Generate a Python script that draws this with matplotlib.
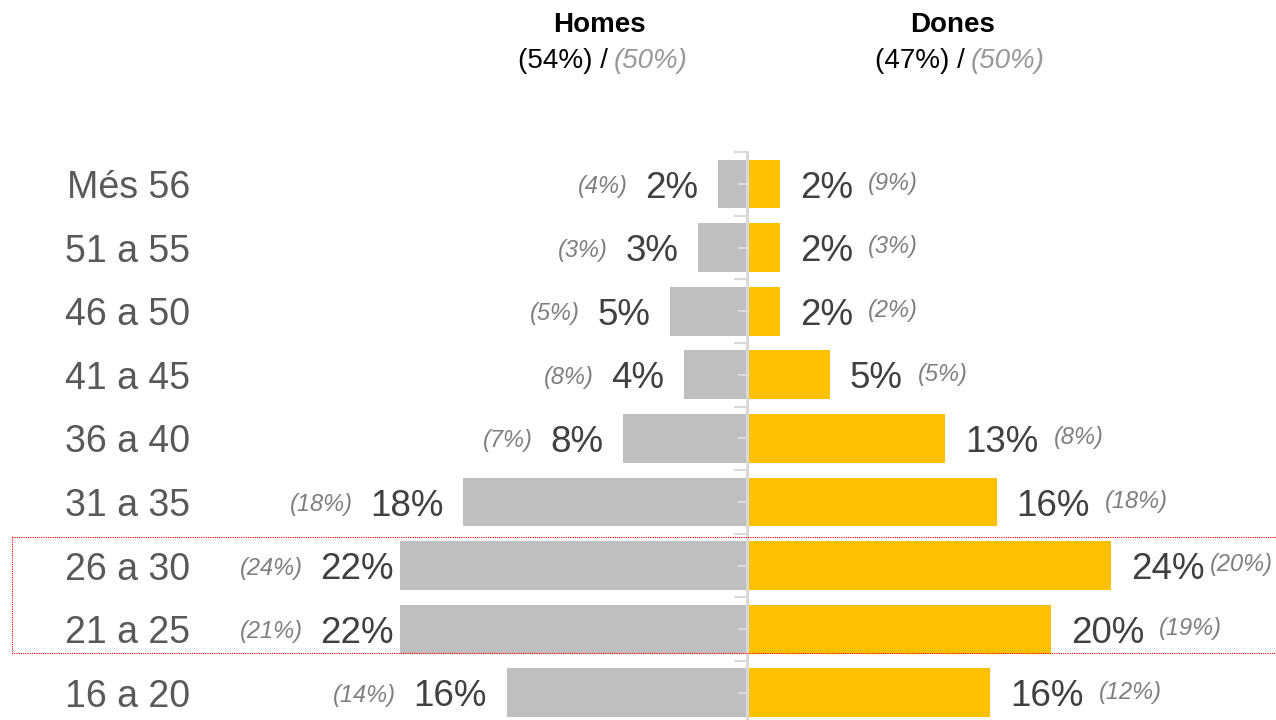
import matplotlib
matplotlib.use("Agg")
import matplotlib.pyplot as plt
from matplotlib.patches import Rectangle

plt.rcParams['font.family'] = ['Liberation Sans', 'DejaVu Sans']

# age groups, top to bottom
ages = ['Més 56', '51 a 55', '46 a 50', '41 a 45', '36 a 40',
        '31 a 35', '26 a 30', '21 a 25', '16 a 20']
# bar lengths (%)
homes = [1.87, 3.16, 4.97, 4.06, 8.0, 18.3, 22.4, 22.4, 15.5]
dones = [2.13, 2.13, 2.13, 5.35, 12.8, 16.1, 23.5, 19.6, 15.7]
# printed labels
homes_lbl = ['2%', '3%', '5%', '4%', '8%', '18%', '22%', '22%', '16%']
dones_lbl = ['2%', '2%', '2%', '5%', '13%', '16%', '24%', '20%', '16%']
homes_ref = ['(4%)', '(3%)', '(5%)', '(8%)', '(7%)', '(18%)', '(24%)', '(21%)', '(14%)']
dones_ref = ['(9%)', '(3%)', '(2%)', '(5%)', '(8%)', '(18%)', '(20%)', '(19%)', '(12%)']
homes_tot, dones_tot, ref_tot = '(54%)', '(47%)', '(50%)'
highlight = ['26 a 30', '21 a 25']

W, H = 1276, 720
GRAY = '#BFBFBF'
YELLOW = '#FFC000'
DARK = '#404040'
LABEL = '#595959'
LIGHT = '#7F7F7F'

# pixel geometry of the layout
x0_px, px_per_pct = 747, 15.5
y0_px, row_px = 184, 63.6

fig = plt.figure(figsize=(W / 100, H / 100), dpi=100)
ax = fig.add_axes([0, 0, 1, 1])
ax.set_xlim(-x0_px / px_per_pct, (W - x0_px) / px_per_pct)
ax.set_ylim((H - y0_px) / row_px, -y0_px / row_px)
ax.axis('off')

ys = list(range(len(ages)))
ax.barh(ys, [-v for v in homes], height=0.77, color=GRAY, zorder=2)
ax.barh(ys, dones, height=0.77, color=YELLOW, zorder=2)

# centre axis with small ticks
ax.plot([0, 0], [-0.52, ys[-1] + 0.6], color='#D9D9D9', lw=2.2, zorder=3,
        solid_capstyle='butt')
tick_b = 12 / px_per_pct
tick_c = 8 / px_per_pct
for y in ys:
    ax.plot([-tick_b, 0], [y - 0.5, y - 0.5], color='#D9D9D9', lw=1.5, zorder=3)
    ax.plot([-tick_c, 0], [y, y], color='#D9D9D9', lw=1.5, zorder=3)

gap = 20 / px_per_pct
fig.canvas.draw()
r = fig.canvas.get_renderer()
inv = ax.transData.inverted()


def px2x(px):
    return inv.transform((px, 0))[0]


for y, age, h, d, hl, dl, hr, dr in zip(ys, ages, homes, dones, homes_lbl,
                                        dones_lbl, homes_ref, dones_ref):
    ax.text((190 - x0_px) / px_per_pct, y, age, ha='right', va='center_baseline',
            fontsize=27, color=LABEL)

    # left side: value then reference, kept clear of the row labels
    tv = ax.text(-h - gap, y, hl, ha='right', va='center_baseline',
                 fontsize=26.5, color=DARK)
    tr = ax.text(0, y, hr, ha='right', va='center_baseline', fontsize=17,
                 style='italic', color=LIGHT)
    wv = tv.get_window_extent(r).width
    wr = tr.get_window_extent(r).width
    bar_px = ax.transData.transform((-h, 0))[0]
    right = bar_px - 20
    if right - wv - 17 - wr < 240:
        right = min(240 + wv + 17 + wr, bar_px - 4)
    tv.set_x(px2x(right))
    tr.set_x(px2x(right - wv - 17))

    # right side
    tv = ax.text(d + gap, y, dl, ha='left', va='center_baseline',
                 fontsize=26.5, color=DARK)
    tr = ax.text(0, y - 0.05, dr, ha='left', va='center_baseline', fontsize=17,
                 style='italic', color=LIGHT)
    bb = tv.get_window_extent(r)
    wr = tr.get_window_extent(r).width
    start = min(bb.x1 + 15, W - 3 - wr)
    tr.set_x(px2x(start))

# dotted highlight box around the two groups
i0, i1 = ages.index(highlight[0]), ages.index(highlight[1])
x_left = (12 - x0_px) / px_per_pct
box = Rectangle((x_left, i0 - 0.45), 200, (i1 - i0) + 0.83, fill=False,
                edgecolor='red', lw=0.8, linestyle=(0, (1, 1)), zorder=4)
ax.add_patch(box)

# headers
for cx, name, tot, jx in [(599, 'Homes', homes_tot, 608), (953, 'Dones', dones_tot, 965)]:
    fig.text(cx / W, 1 - 22 / H, name, ha='center', va='center_baseline',
             fontsize=20, fontweight='bold', color='black')
    fig.text(jx / W, 1 - 58 / H, tot + ' /', ha='right', va='center_baseline',
             fontsize=20, color='black')
    fig.text((jx + 6) / W, 1 - 58 / H, ref_tot, ha='left', va='center_baseline',
             fontsize=20, style='italic', color='#999999')

fig.savefig('out.png', dpi=100)
